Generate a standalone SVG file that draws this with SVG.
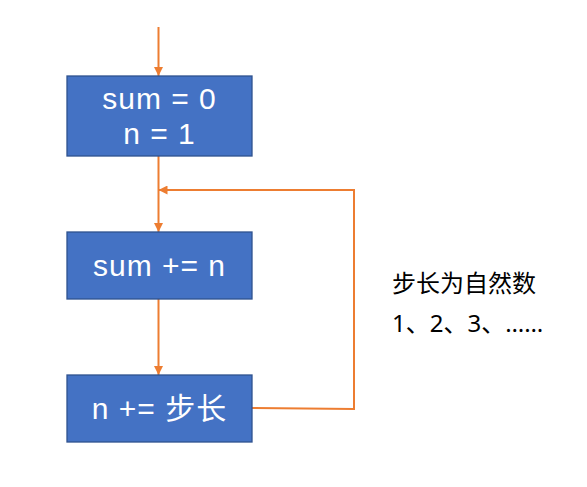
<svg xmlns="http://www.w3.org/2000/svg" width="587" height="487" viewBox="0 0 587 487">
<style>
.box{fill:#4472C4;stroke:#2F528F;stroke-width:1.3}
.t{fill:#fff;font-family:"Liberation Sans","Noto Sans CJK SC",sans-serif;font-size:30px;text-anchor:middle;letter-spacing:1px}
.n{fill:#000;font-family:"Noto Sans","Noto Sans CJK SC",sans-serif;font-size:24px}
.c{fill:none;stroke:#ED7D31;stroke-width:2}
</style>
<defs>
<marker id="a" viewBox="0 0 10 10" refX="10" refY="5" markerWidth="4.5" markerHeight="4.5" orient="auto" markerUnits="strokeWidth">
<path d="M0,0 L10,5 L0,10 z" fill="#ED7D31"/>
</marker>
</defs>
<rect width="587" height="487" fill="#fff"/>
<g id="connectors">
<line class="c" x1="158.5" y1="27" x2="158.5" y2="76" marker-end="url(#a)"/>
<line class="c" x1="158.5" y1="156" x2="158.5" y2="232" marker-end="url(#a)"/>
<line class="c" x1="158.5" y1="299" x2="158.5" y2="375" marker-end="url(#a)"/>
<polyline class="c" points="252,408 354,409 354,190 158.5,190" marker-end="url(#a)"/>
</g>
<g id="node1">
<rect class="box" x="67" y="76" width="185" height="80"/>
<text class="t" x="159.5" y="109">sum = 0</text>
<text class="t" x="159.5" y="144">n = 1</text>
</g>
<g id="node2">
<rect class="box" x="67" y="232" width="185" height="67"/>
<text class="t" x="159.5" y="276">sum += n</text>
</g>
<g id="node3">
<rect class="box" x="67" y="375" width="185" height="67"/>
<text class="t" x="159.5" y="419">n += 步长</text>
</g>
<g id="note">
<text class="n" x="392" y="292">步长为自然数</text>
<text class="n" x="392" y="332">1、2、3、……</text>
</g>
</svg>
